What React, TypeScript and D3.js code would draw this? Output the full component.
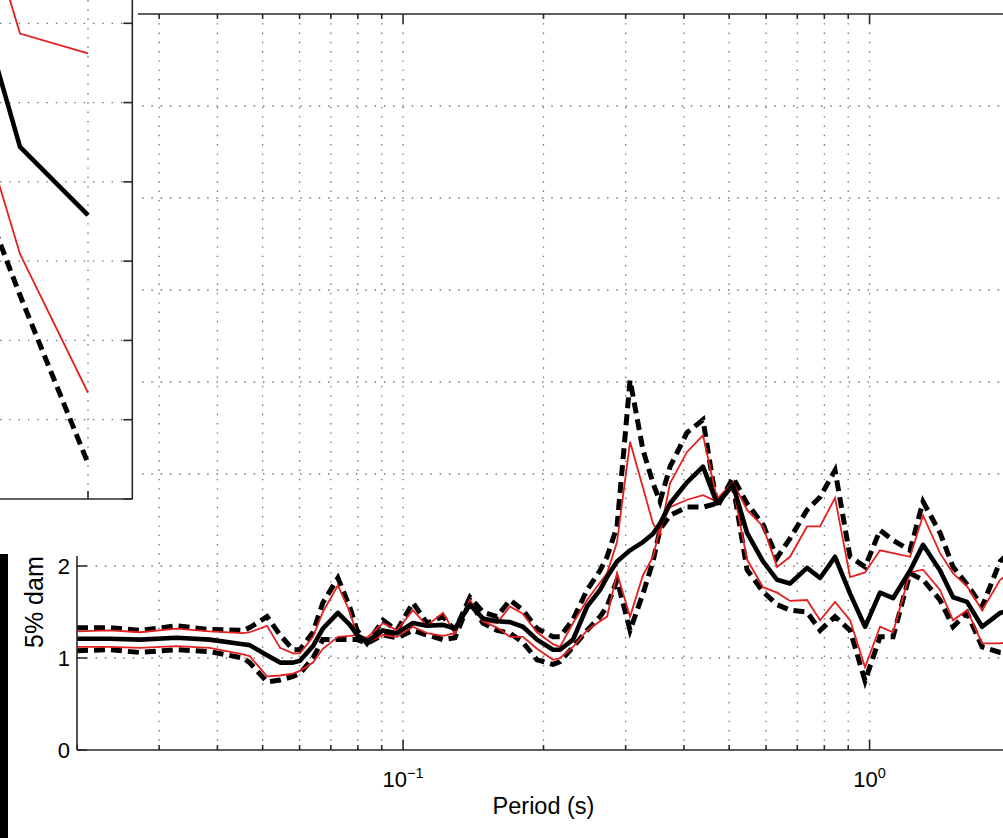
import React from 'react';
import * as d3 from 'd3';

// ---------- main chart data ----------
const periods = [0.02, 0.0235, 0.0273, 0.0327, 0.0385, 0.0454, 0.0469, 0.0511, 0.0545, 0.0581,
  0.0601, 0.0641, 0.0673, 0.0725, 0.0769, 0.0797, 0.0837, 0.0906, 0.097, 0.105,
  0.1125, 0.1218, 0.1292, 0.1391, 0.1483, 0.159, 0.1695, 0.1807, 0.1937, 0.2096,
  0.217, 0.2314, 0.248, 0.2644, 0.2737, 0.2875, 0.3066, 0.3268, 0.3434, 0.3555,
  0.3735, 0.4062, 0.4395, 0.471, 0.5097, 0.5462, 0.591, 0.6335, 0.6753, 0.7345,
  0.7833, 0.8433, 0.9082, 0.9781, 1.053, 1.123, 1.221, 1.302, 1.416, 1.51,
  1.618, 1.743, 1.905, 2.0];

const median = [1.21, 1.21, 1.20, 1.22, 1.20, 1.15, 1.14, 1.03, 0.95, 0.95,
  0.97, 1.13, 1.32, 1.49, 1.36, 1.25, 1.18, 1.30, 1.27, 1.38,
  1.35, 1.36, 1.32, 1.58, 1.43, 1.40, 1.39, 1.34, 1.20, 1.09,
  1.09, 1.20, 1.56, 1.74, 1.88, 2.05, 2.17, 2.26, 2.35, 2.46,
  2.68, 2.91, 3.08, 2.68, 2.88, 2.36, 2.05, 1.85, 1.81, 1.98,
  1.87, 2.10, 1.70, 1.34, 1.71, 1.65, 1.95, 2.23, 1.95, 1.66,
  1.61, 1.34, 1.49, 1.52];

const upperRed = [1.29, 1.30, 1.28, 1.32, 1.29, 1.27, 1.28, 1.35, 1.11, 1.05,
  1.05, 1.23, 1.50, 1.79, 1.50, 1.25, 1.22, 1.38, 1.30, 1.52,
  1.35, 1.49, 1.27, 1.63, 1.40, 1.38, 1.56, 1.48, 1.28, 1.15,
  1.12, 1.38, 1.63, 1.82, 1.92, 2.26, 3.35, 2.85, 2.46, 2.35,
  2.90, 3.24, 3.42, 2.73, 2.91, 2.61, 2.43, 1.99, 2.10, 2.43,
  2.43, 2.74, 1.88, 1.93, 2.17, 2.14, 2.10, 2.55, 2.14, 1.92,
  1.78, 1.52, 1.85, 1.92];

const lowerRed = [1.12, 1.12, 1.11, 1.13, 1.11, 1.04, 1.02, 0.80, 0.81, 0.83,
  0.86, 0.95, 1.10, 1.23, 1.24, 1.25, 1.17, 1.25, 1.23, 1.34,
  1.27, 1.24, 1.27, 1.60, 1.40, 1.33, 1.23, 1.23, 1.10, 0.98,
  1.00, 1.12, 1.30, 1.40, 1.45, 1.92, 1.45, 1.90, 2.10, 2.42,
  2.64, 2.72, 2.77, 2.70, 2.86, 2.07, 1.77, 1.71, 1.62, 1.63,
  1.41, 1.61, 1.41, 0.90, 1.34, 1.28, 1.93, 1.96, 1.74, 1.41,
  1.52, 1.16, 1.16, 1.17];

const upperDash = [1.33, 1.33, 1.30, 1.35, 1.31, 1.30, 1.33, 1.45, 1.25, 1.09,
  1.09, 1.28, 1.60, 1.87, 1.55, 1.30, 1.16, 1.41, 1.30, 1.60,
  1.38, 1.45, 1.30, 1.66, 1.50, 1.45, 1.63, 1.52, 1.32, 1.23,
  1.23, 1.42, 1.74, 1.95, 2.10, 2.43, 4.02, 3.26, 2.90, 2.70,
  3.08, 3.45, 3.59, 2.64, 2.96, 2.68, 2.45, 2.09, 2.30, 2.61,
  2.75, 3.04, 2.10, 1.99, 2.39, 2.28, 2.17, 2.70, 2.36, 1.99,
  1.80, 1.56, 2.05, 2.15];

const lowerDash = [1.08, 1.09, 1.06, 1.09, 1.07, 1.00, 0.95, 0.74, 0.76, 0.80,
  0.83, 1.00, 1.20, 1.20, 1.20, 1.20, 1.16, 1.25, 1.22, 1.30,
  1.25, 1.20, 1.22, 1.62, 1.38, 1.30, 1.27, 1.17, 0.98, 0.93,
  0.96, 1.12, 1.30, 1.45, 1.56, 1.85, 1.30, 1.70, 2.05, 2.40,
  2.55, 2.64, 2.64, 2.68, 2.88, 1.96, 1.72, 1.58, 1.52, 1.50,
  1.30, 1.45, 1.30, 0.75, 1.23, 1.23, 1.92, 1.85, 1.63, 1.34,
  1.49, 1.12, 1.06, 1.05];

const xDomain = [0.02, 2];
const yDomain = [0, 8];
const yTicks = [0, 1, 2, 3, 4, 5, 6, 7, 8];
const yTickLabels = ['0', '1', '2', '3', '4', '5', '6', '7', '8'];
const xMajorTicks = [0.1, 1];
const xMajorBase = ['10', '10'];
const xMajorExp = ['\u22121', '0'];
const xLabel = 'Period (s)';
const yLabel = '5% damped PSA ratio';

// ---------- inset (partially visible panel) data ----------
const insetX = [1, 2, 3];
const insetMedian = [7.43, 4.44, 3.58];
const insetUpperRed = [8.73, 5.87, 5.62];
const insetLowerRed = [5.95, 3.09, 1.34];
const insetUpperDash = [10.8, 7.6, 7.1];
const insetLowerDash = [4.81, 2.57, 0.45];
const insetXTicks = [1, 3];
const insetYTicks = [0, 1, 2, 3, 4, 5, 6];

const FONT = 'Liberation Sans, Arial, Helvetica, sans-serif';
const RED = '#e3201f';
const AXIS = '#2a2a2a';
const GRID = '#6e6e6e';

export default function App() {
  const W = 1003, H = 838;
  const m = { left: 77, right: 1010, top: 14, bottom: 750 };
  const x = d3.scaleLog().domain(xDomain).range([m.left, m.right]);
  const y = d3.scaleLinear().domain(yDomain).range([m.bottom, m.top]);

  const allXTicks = x.ticks();
  const isMajor = (t: number) => Math.abs(Math.log10(t) - Math.round(Math.log10(t))) < 1e-9;

  const line = (vals: number[]) =>
    d3.line<number>().x((_, i) => x(periods[i])).y(d => y(d))(vals) || '';

  // inset scales
  const ix = d3.scaleLinear().domain([1, 3]).range([-48, 88]);
  const iy = d3.scaleLinear().domain([0, 6]).range([499, 23.3]);
  const iRight = 132.3, iBottom = 499;
  const iline = (vals: number[]) =>
    d3.line<number>().x((_, i) => ix(insetX[i])).y(d => iy(d))(vals) || '';

  const dashed = { stroke: '#000', strokeWidth: 5, strokeDasharray: '11 6', fill: 'none' };
  const redS = { stroke: RED, strokeWidth: 1.8, fill: 'none' };
  const solid = { stroke: '#000', strokeWidth: 4.6, fill: 'none', strokeLinejoin: 'round' as const };

  return (
    <svg width={W} height={H} style={{ position: 'absolute', left: 0, top: 0, background: '#fff' }}
      fontFamily={FONT}>
      <defs>
        <clipPath id="plotClip">
          <rect x={m.left} y={m.top} width={m.right - m.left} height={m.bottom - m.top} />
        </clipPath>
        <clipPath id="labelClip">
          <rect x={0} y={556} width={76} height={200} />
        </clipPath>
        <clipPath id="insetClip">
          <rect x={-200} y={-200} width={iRight + 200} height={iBottom + 200} />
        </clipPath>
      </defs>
      <rect x={0} y={0} width={W} height={H} fill="#fff" />

      {/* grid */}
      <g stroke={GRID} strokeWidth={1.3} strokeDasharray="1.4 7.9" fill="none">
        {allXTicks.filter(t => t > xDomain[0] && t < xDomain[1]).map((t, i) => (
          <line key={'gx' + i} x1={x(t)} x2={x(t)} y1={m.bottom} y2={m.top} />
        ))}
        {yTicks.filter(t => t > yDomain[0] && t < yDomain[1]).map((t, i) => (
          <line key={'gy' + i} x1={m.left} x2={m.right} y1={y(t)} y2={y(t)} />
        ))}
      </g>

      {/* data */}
      <g clipPath="url(#plotClip)">
        <path d={line(upperDash)} {...dashed} />
        <path d={line(lowerDash)} {...dashed} />
        <path d={line(upperRed)} {...redS} />
        <path d={line(lowerRed)} {...redS} />
        <path d={line(median)} {...solid} />
      </g>

      {/* axes box */}
      <g stroke={AXIS} strokeWidth={1.6} fill="none">
        <line x1={m.left} x2={m.right} y1={m.bottom} y2={m.bottom} />
        <line x1={m.left} x2={m.right} y1={m.top} y2={m.top} />
        <line x1={m.left} x2={m.left} y1={m.top} y2={m.bottom} />
        {allXTicks.map((t, i) => {
          const len = isMajor(t) ? 10 : 5;
          return (
            <g key={'tx' + i}>
              <line x1={x(t)} x2={x(t)} y1={m.bottom} y2={m.bottom - len} />
              <line x1={x(t)} x2={x(t)} y1={m.top} y2={m.top + len} />
            </g>
          );
        })}
        {yTicks.map((t, i) => (
          <line key={'ty' + i} x1={m.left} x2={m.left + 10} y1={y(t)} y2={y(t)} />
        ))}
      </g>

      {/* tick labels */}
      <g fontSize={22} fill="#000">
        {yTicks.map((t, i) => (
          <text key={'yl' + i} x={m.left - 7} y={y(t)} dy="0.36em" textAnchor="end">{yTickLabels[i]}</text>
        ))}
        {xMajorTicks.map((t, i) => (
          <text key={'xl' + i} x={x(t)} y={787} textAnchor="middle">
            <tspan>{xMajorBase[i]}</tspan>
            <tspan fontSize={14.5} dy={-9}>{xMajorExp[i]}</tspan>
          </text>
        ))}
      </g>
      <text x={(m.left + m.right) / 2} y={814} textAnchor="middle" fontSize={23.5} fill="#000">{xLabel}</text>
      <g clipPath="url(#labelClip)">
        <text transform="translate(43,648) rotate(-90)" fontSize={25} fill="#000">{yLabel}</text>
      </g>

      {/* white area of the overlapping panel */}
      <rect x={0} y={0} width={138} height={556} fill="#fff" />

      {/* inset panel (partially visible) */}
      <g>
        <g stroke={GRID} strokeWidth={1.3} strokeDasharray="1.4 7.9" fill="none">
          {insetYTicks.filter(t => t > 0).map((t, i) => (
            <line key={'igy' + i} x1={0} x2={iRight} y1={iy(t)} y2={iy(t)} />
          ))}
          {insetXTicks.map((t, i) => (
            <line key={'igx' + i} x1={ix(t)} x2={ix(t)} y1={0} y2={iBottom} />
          ))}
        </g>
        <g clipPath="url(#insetClip)">
          <path d={iline(insetUpperDash)} {...dashed} />
          <path d={iline(insetLowerDash)} {...dashed} />
          <path d={iline(insetUpperRed)} {...redS} />
          <path d={iline(insetLowerRed)} {...redS} />
          <path d={iline(insetMedian)} {...solid} />
        </g>
        <g stroke={AXIS} strokeWidth={1.6} fill="none">
          <line x1={iRight} x2={iRight} y1={0} y2={iBottom} />
          <line x1={0} x2={iRight} y1={iBottom} y2={iBottom} />
          {insetYTicks.map((t, i) => (
            <line key={'ity' + i} x1={iRight} x2={iRight - 9} y1={iy(t)} y2={iy(t)} />
          ))}
          {insetXTicks.map((t, i) => (
            <line key={'itx' + i} x1={ix(t)} x2={ix(t)} y1={iBottom} y2={iBottom - 8} />
          ))}
        </g>
      </g>

      {/* dark strip at the left edge */}
      <rect x={0} y={554} width={8} height={H - 554} fill="#000" />
    </svg>
  );
}
